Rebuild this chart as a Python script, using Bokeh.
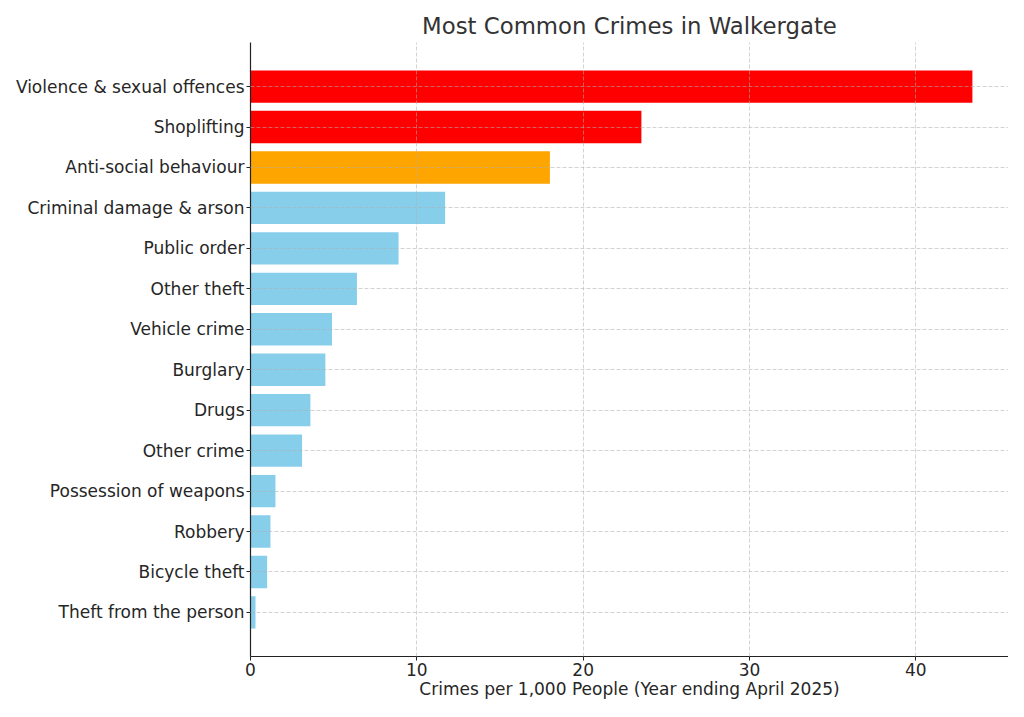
from bokeh.plotting import figure
from bokeh.models import ColumnDataSource, FactorRange, Range1d, FixedTicker
from bokeh.embed import file_html
from bokeh.resources import INLINE

categories = [
    "Violence & sexual offences", "Shoplifting", "Anti-social behaviour",
    "Criminal damage & arson", "Public order", "Other theft", "Vehicle crime",
    "Burglary", "Drugs", "Other crime", "Possession of weapons", "Robbery",
    "Bicycle theft", "Theft from the person",
]
rates = [43.4, 23.5, 18.0, 11.7, 8.9, 6.4, 4.9, 4.5, 3.6, 3.1, 1.5, 1.2, 1.0, 0.3]
colors = ["#ff0000", "#ff0000", "#ffa500"] + ["#87ceeb"] * 11
x_ticks = [0, 10, 20, 30, 40]

FONT = "DejaVu Sans"
TXT = "#262626"

src = ColumnDataSource(dict(cat=categories, rate=rates, color=colors))

p = figure(
    width=1008, height=701,
    y_range=FactorRange(factors=categories[::-1], range_padding=0.59,
                        range_padding_units="absolute"),
    x_range=Range1d(0, max(rates) * 1.05),
    output_backend="svg", toolbar_location=None,
    title="Most Common Crimes in Walkergate",
    min_border_left=250, min_border_right=0, min_border_top=42, min_border_bottom=44,
)
p.hbar(y="cat", right="rate", left=0, height=0.8, color="color", line_color=None, source=src)

p.title.text_font = FONT
p.title.text_font_size = "22.8px"
p.title.text_font_style = "normal"
p.title.text_color = "#333333"
p.title.align = "center"
p.title.standoff = 8

p.outline_line_color = None
p.background_fill_color = "white"

for ax in (p.xaxis[0], p.yaxis[0]):
    ax.axis_line_color = "#222222"
    ax.axis_line_width = 1.2
    ax.major_tick_line_color = "#222222"
    ax.major_tick_out = 4
    ax.major_tick_in = 0
    ax.minor_tick_out = 0
    ax.minor_tick_in = 0
    ax.major_label_text_font = FONT
    ax.major_label_text_font_size = "17px"
    ax.major_label_text_color = TXT

p.xaxis.ticker = FixedTicker(ticks=x_ticks)
p.xaxis.major_label_standoff = 2
p.yaxis.major_label_standoff = 2
p.xaxis.major_label_text_line_height = 0.9
p.xaxis.axis_label = "Crimes per 1,000 People (Year ending April 2025)"
p.xaxis.axis_label_text_font = FONT
p.xaxis.axis_label_text_font_size = "17px"
p.xaxis.axis_label_text_font_style = "normal"
p.xaxis.axis_label_text_color = TXT
p.xaxis.axis_label_text_line_height = 0.9
p.xaxis.axis_label_standoff = 0

for g in (p.xgrid[0], p.ygrid[0]):
    g.grid_line_color = "#b0b0b0"
    g.grid_line_alpha = 0.7
    g.grid_line_dash = "4 2"
    g.grid_line_width = 0.8
    g.level = "overlay"

open("out.html", "w").write(file_html(p, INLINE))
